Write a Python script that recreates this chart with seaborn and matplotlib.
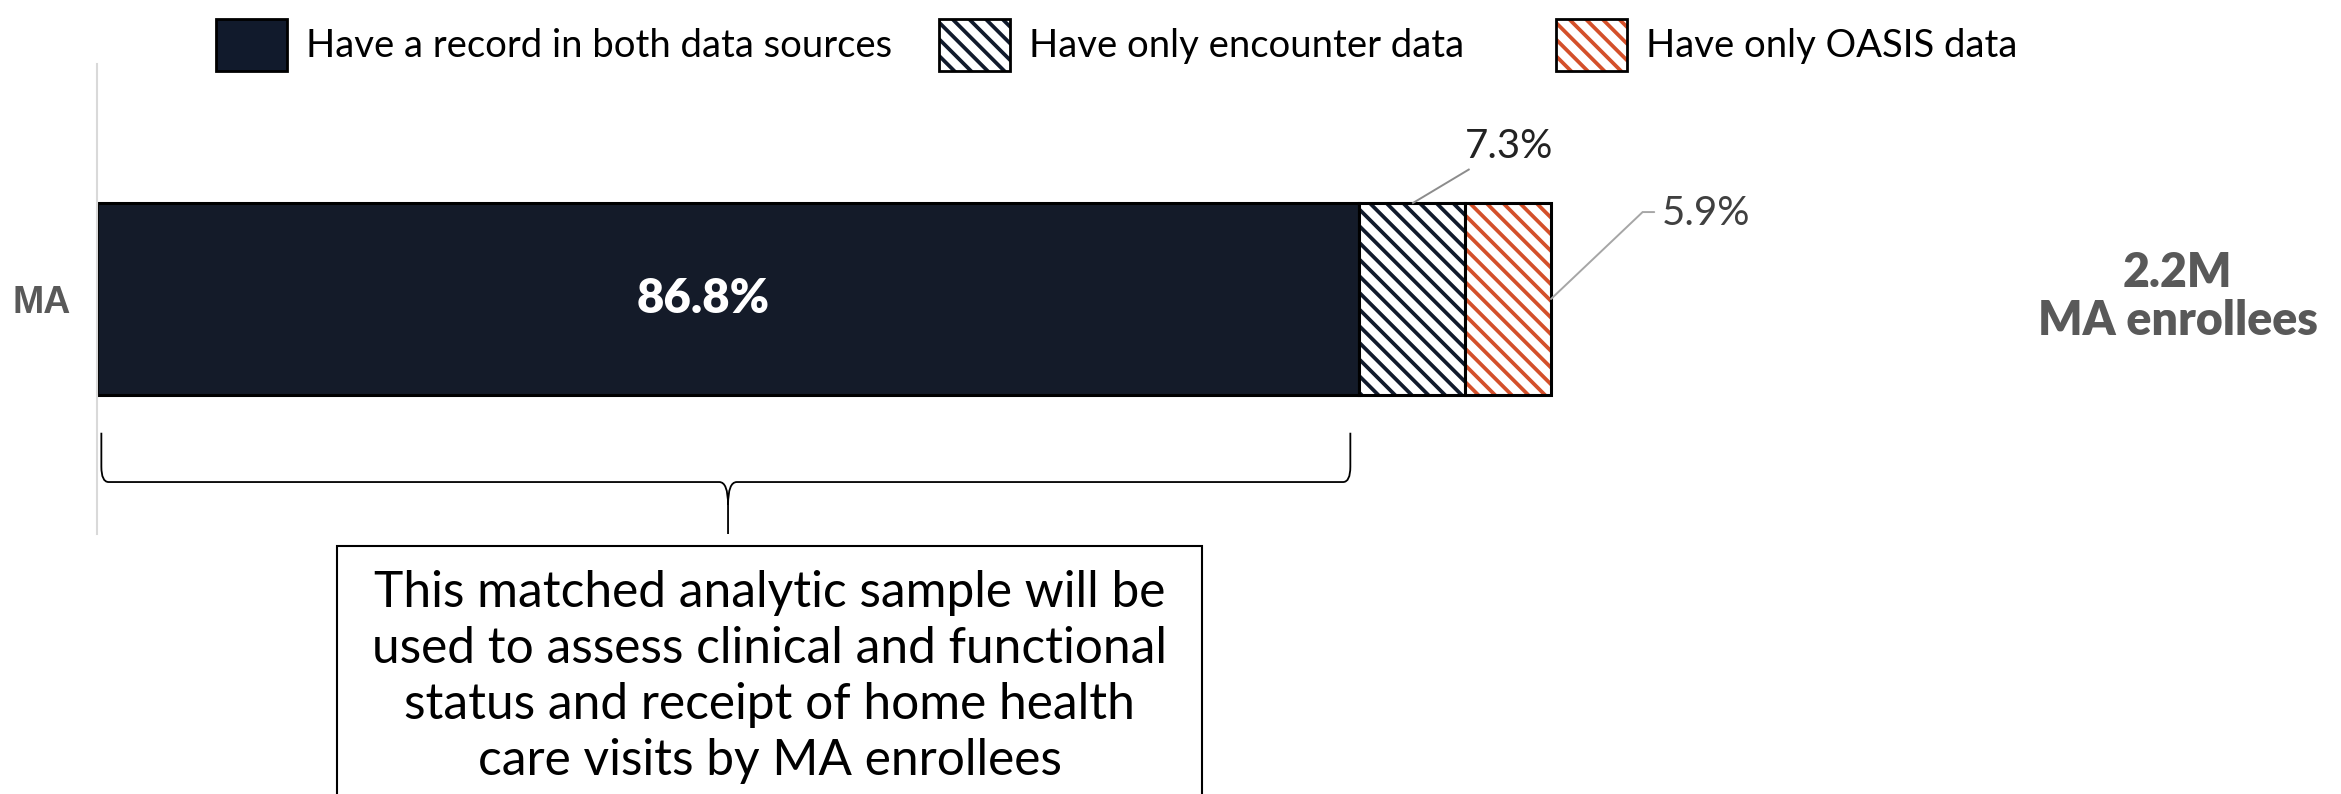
import numpy as np
import pandas as pd
import matplotlib
matplotlib.use("Agg")
import matplotlib.pyplot as plt
import seaborn as sns
from matplotlib.patches import Patch, PathPatch, Rectangle
from matplotlib.path import Path
from matplotlib.legend_handler import HandlerTuple

# ---------------- data ----------------
categories = ["MA"]
segment_labels = ["Have a record in both data sources",
                  "Have only encounter data",
                  "Have only OASIS data"]
segment_values = [86.8, 7.3, 5.9]
segment_text = ["86.8%", "7.3%", "5.9%"]
total_label = "2.2M\nMA enrollees"
note_text = ("This matched analytic sample will be\n"
             "used to assess clinical and functional\n"
             "status and receipt of home health\n"
             "care visits by MA enrollees")

# ---------------- style ----------------
NAVY = "#111A2C"
ORANGE = "#D4502A"
GRAY_TXT = "#595959"

sns.set_theme(style="white")
plt.rcParams["font.family"] = ["Lato", "DejaVu Sans"]
plt.rcParams["hatch.linewidth"] = 2.7

fig = plt.figure(figsize=(23.41, 7.94), dpi=100)
W, H = 2341, 794
ax = fig.add_axes([97 / W, (H - 534) / H, (2278 - 97) / W, 470 / H])

lefts = np.concatenate([[0.0], np.cumsum(segment_values)[:-1]])
BAR_H = 1.0
EDGE_LW = 2.2

# segment 1: solid navy
sns.barplot(x=[segment_values[0]], y=categories, orient="h", color=NAVY,
            width=BAR_H, edgecolor="black", linewidth=EDGE_LW,
            left=lefts[0], ax=ax)
# segments 2 & 3: hatched, with black outline
hatch_cols = [NAVY, ORANGE]
for i, hc in zip([1, 2], hatch_cols):
    sns.barplot(x=[segment_values[i]], y=categories, orient="h", color="white",
                width=BAR_H, edgecolor=hc, linewidth=0, hatch="\\\\",
                left=lefts[i], ax=ax)
    sns.barplot(x=[segment_values[i]], y=categories, orient="h", color="black",
                width=BAR_H, fill=False, edgecolor="black", linewidth=EDGE_LW,
                left=lefts[i], ax=ax)

ax.set_xlim(0, 150)
ax.set_ylim(1.23, -1.23)
ax.set_xlabel("")
ax.set_ylabel("")
ax.set_xticks([])
for s in ["top", "right", "bottom"]:
    ax.spines[s].set_visible(False)
ax.spines["left"].set_color("#D9D9D9")
ax.spines["left"].set_linewidth(1.5)
ax.tick_params(axis="y", length=0, pad=19)
for lab in ax.get_yticklabels():
    lab.set_fontfamily(["Liberation Sans", "DejaVu Sans"])
    lab.set_fontweight("bold")
    lab.set_fontsize(27)
    lab.set_color(GRAY_TXT)

# inside label
ax.text(lefts[0] + segment_values[0] * 0.48, 0, segment_text[0], color="white",
        fontsize=34, fontweight="heavy", ha="center", va="center")

# 7.3% label with leader
c1 = lefts[1] + segment_values[1] / 2
ax.plot([c1, c1 + 3.95], [-BAR_H / 2, -0.68], color="#8C8C8C", lw=1.4,
        solid_capstyle="butt")
ax.text(c1 + 6.7, -0.80, segment_text[1], color="#222222", fontsize=29,
        ha="center", va="center")

# 5.9% label with leader
end = lefts[2] + segment_values[2]
ax.plot([end, end + 6.3, end + 7.1], [0.0, -0.455, -0.455], color="#A6A6A6",
        lw=1.4, solid_joinstyle="miter")
ax.text(end + 7.6, -0.45, segment_text[2], color="#404040", fontsize=29,
        ha="left", va="center")

# total label
ax.text(143.1, -0.01, total_label, color=GRAY_TXT, fontsize=33.5,
        fontweight="heavy", ha="center", va="center", linespacing=1.1)

# brace under matched segment
x0 = lefts[0] + 0.3
x1 = lefts[0] + segment_values[0] - 0.6
xc = lefts[0] + segment_values[0] / 2
yt, yh, yb = 0.70, 0.958, 1.23
verts = [(x0, yt), (x0, yh - 0.08), (x0, yh), (x0 + 0.5, yh),
         (xc - 0.6, yh), (xc, yh), (xc, yh + 0.12),
         (xc, yb),
         (xc, yh + 0.12), (xc, yh), (xc + 0.6, yh),
         (x1 - 0.5, yh), (x1, yh), (x1, yh - 0.08), (x1, yt)]
codes = [Path.MOVETO, Path.LINETO, Path.CURVE3, Path.CURVE3,
         Path.LINETO, Path.CURVE3, Path.CURVE3,
         Path.LINETO,
         Path.MOVETO, Path.CURVE3, Path.CURVE3,
         Path.LINETO, Path.CURVE3, Path.CURVE3, Path.LINETO]
ax.add_patch(PathPatch(Path(verts, codes), facecolor="none", edgecolor="black",
                       lw=1.3, clip_on=False))

# note box
fig.patches.append(Rectangle((337 / W, -0.1), (1202 - 337) / W,
                             (H - 546) / H + 0.1, transform=fig.transFigure,
                             facecolor="white", edgecolor="black", lw=1.5))
fig.text(769.5 / W, (H - 677) / H, note_text, fontsize=35.7, color="black",
         ha="center", va="center", linespacing=1.27)

# legend (one entry per legend so each sits at its own position)
h1 = Patch(facecolor=NAVY, edgecolor="black", lw=2)
h2 = (Patch(facecolor="white", edgecolor=NAVY, hatch="\\\\", lw=0),
      Patch(facecolor="none", edgecolor="black", lw=2))
h3 = (Patch(facecolor="white", edgecolor=ORANGE, hatch="\\\\", lw=0),
      Patch(facecolor="none", edgecolor="black", lw=2))
leg_x = [216, 939, 1556]
for h, lab, lx in zip([h1, h2, h3], segment_labels, leg_x):
    fig.legend([h], [lab], loc="center left",
               bbox_to_anchor=(lx / W, (H - 45) / H), frameon=False,
               fontsize=27.5, handlelength=1.86, handleheight=1.73,
               handletextpad=0.5, borderpad=0, borderaxespad=0,
               labelcolor="black",
               handler_map={tuple: HandlerTuple(ndivide=1, pad=0)})

fig.savefig("out.png", dpi=100)
